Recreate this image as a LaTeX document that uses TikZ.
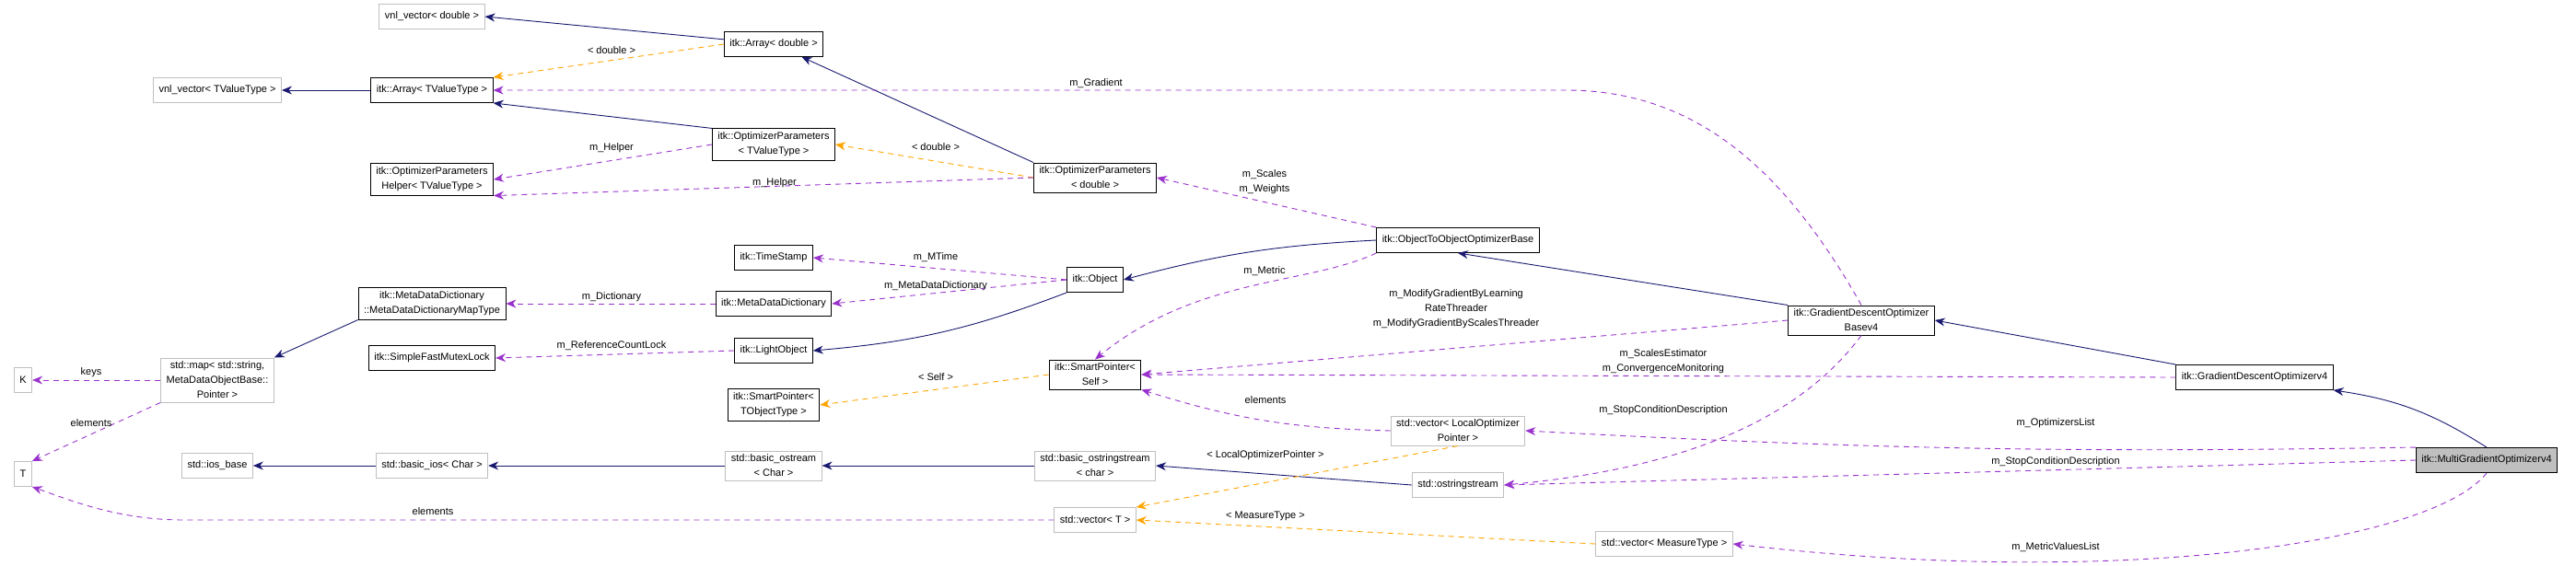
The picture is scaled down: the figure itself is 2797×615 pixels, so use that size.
\documentclass[tikz,border=0pt]{standalone}
\usepackage{fontspec}
\setmainfont{Liberation Sans}
\usetikzlibrary{arrows.meta,positioning}
\definecolor{inhcol}{RGB}{25,25,112}
\definecolor{usecol}{RGB}{153,50,204}
\definecolor{tplcol}{RGB}{255,165,0}
\definecolor{extcol}{RGB}{191,191,191}
\begin{document}
\begin{tikzpicture}[x=1pt, y=-1pt, font=\fontsize{11}{16}\selectfont]
        % Define block styles
        \tikzstyle{cls} = [rectangle, draw=black, line width=0.9pt, align=center, inner xsep=6pt, inner ysep=4pt, minimum height=27pt]
        \tikzstyle{ext} = [cls, draw=extcol]
        \tikzstyle{me} = [cls, fill=extcol]
        \tikzstyle{inh} = [draw=inhcol, line width=0.9pt, -{Stealth[length=11pt,width=9pt]}]
        \tikzstyle{use} = [draw=usecol, line width=0.9pt, dashed, dash pattern=on 6pt off 5pt, -{Stealth[length=11pt,width=9pt]}]
        \tikzstyle{tpl} = [use, draw=tplcol]
        \tikzstyle{lbl} = [align=center, inner sep=1pt]
        \useasboundingbox (0,0) rectangle (2797,615);

        % Place nodes
        \node [ext] (vnlD) at (469,18) {vnl\_vector< double >};
        \node [ext] (vnlT) at (236,98) {vnl\_vector< TValueType >};
        \node [cls] (arrT) at (469,98) {itk::Array< TValueType >};
        \node [cls] (helperT) at (469,195) {itk::OptimizerParameters\\Helper< TValueType >};
        \node [cls] (mddMap) at (469,330) {itk::MetaDataDictionary\\::MetaDataDictionaryMapType};
        \node [cls] (mutex) at (469,389) {itk::SimpleFastMutexLock};
        \node [ext] (stdMap) at (236,413) {std::map< std::string,\\MetaDataObjectBase::\\Pointer >};
        \node [ext] (K) at (25,413) {K};
        \node [ext] (T) at (25,515) {T};
        \node [ext] (iosBase) at (236,506) {std::ios\_base};
        \node [ext] (basicIos) at (469,506) {std::basic\_ios< Char >};

        \node [cls] (arrD) at (840,48) {itk::Array< double >};
        \node [cls] (optT) at (840,157) {itk::OptimizerParameters\\< TValueType >};
        \node [cls] (timeStamp) at (840,280) {itk::TimeStamp};
        \node [cls] (mdd) at (840,330) {itk::MetaDataDictionary};
        \node [cls] (lightObj) at (840,381) {itk::LightObject};
        \node [cls] (spT) at (840,440) {itk::SmartPointer<\\TObjectType >};
        \node [ext] (basicOstream) at (840,506) {std::basic\_ostream\\< Char >};

        \node [cls] (optD) at (1189,193) {itk::OptimizerParameters\\< double >};
        \node [cls] (object) at (1189,304) {itk::Object};
        \node [cls] (spSelf) at (1189,407) {itk::SmartPointer<\\Self >};
        \node [ext] (basicOss) at (1189,506) {std::basic\_ostringstream\\< char >};
        \node [ext] (vecT) at (1189,565) {std::vector< T >};

        \node [cls] (o2o) at (1583,261) {itk::ObjectToObjectOptimizerBase};
        \node [ext] (vecLocal) at (1583,468) {std::vector< LocalOptimizer\\Pointer >};
        \node [ext] (oss) at (1583,527) {std::ostringstream};
        \node [ext] (vecMeasure) at (1807,591) {std::vector< MeasureType >};

        \node [cls] (gdBase) at (2021,348) {itk::GradientDescentOptimizer\\Basev4};
        \node [cls] (gdv4) at (2448,410) {itk::GradientDescentOptimizerv4};
        \node [me] (multi) at (2700,500) {itk::MultiGradientOptimizerv4};

        % Inheritance
        \path [inh] (arrD) -- (vnlD.east);
        \path [inh] (arrT) -- (vnlT);
        \path [inh] (optD.north west) -- (arrD);
        \path [inh] (optT.north west) -- (arrT.south east);
        \path [inh] (object.south west) to[bend left=8] (lightObj.east);
        \path [inh] (o2o.west) to[bend right=6] (object.east);
        \path [inh] (gdBase.north west) -- (o2o.south);
        \path [inh] (gdv4.north west) -- (gdBase.east);
        \path [inh] (multi.north) to[bend right=12] (gdv4.south east);
        \path [inh] (mddMap.south west) -- (stdMap.north east);
        \path [inh] (basicIos) -- (iosBase);
        \path [inh] (basicOstream) -- (basicIos);
        \path [inh] (basicOss) -- (basicOstream);
        \path [inh] (oss.west) -- (basicOss.east);

        % Template instances
        \path [tpl] (arrD.west) -- (arrT.north east);
        \path [tpl] (optD.west) -- (optT.east);
        \path [tpl] (spSelf.west) -- (spT.east);
        \path [tpl] (vecLocal.south) -- (vecT.north east);
        \path [tpl] (vecMeasure.west) -- (vecT.east);

        % Members
        \path [use] (gdBase.north) .. controls (1930,170) and (1830,98) .. (1700,98) -- (arrT.east);
        \path [use] (optT.west) -- (helperT.east);
        \path [use] (optD.west) -- (helperT.south east);
        \path [use] (o2o.north west) -- (optD.east);
        \path [use] (object.west) -- (timeStamp.east);
        \path [use] (object.west) -- (mdd.east);
        \path [use] (mdd.west) -- (mddMap.east);
        \path [use] (lightObj.west) -- (mutex.east);
        \path [use] (stdMap.west) -- (K.east);
        \path [use] (stdMap.south west) -- (T.north east);
        \path [use] (vecT.west) -- (200,565) .. controls (130,565) and (80,545) .. (T.south east);
        \path [use] (o2o.south west) .. controls (1420,310) and (1300,300) .. (spSelf.north);
        \path [use] (gdBase.west) -- (spSelf.east);
        \path [use] (gdv4.west) -- (spSelf.east);
        \path [use] (vecLocal.west) to[bend left=8] (spSelf.south east);
        \path [use] (gdBase.south) .. controls (1950,460) and (1820,510) .. (oss.east);
        \path [use] (multi.north west) to[bend left=2] (vecLocal.east);
        \path [use] (multi.west) -- (oss.east);
        \path [use] (multi.south) .. controls (2640,590) and (2300,640) .. (vecMeasure.east);

        % Labels
        \node [lbl] (lDoubleA) at (664,55) {< double >};
        \node [lbl] (lGradient) at (1190,91) {m\_Gradient};
        \node [lbl] (lHelperA) at (664,161) {m\_Helper};
        \node [lbl] (lDoubleB) at (1016,160) {< double >};
        \node [lbl] (lHelperB) at (841,199) {m\_Helper};
        \node [lbl] (lScales) at (1373,198) {m\_Scales\\m\_Weights};
        \node [lbl] (lMTime) at (1016,280) {m\_MTime};
        \node [lbl] (lMdd) at (1016,311) {m\_MetaDataDictionary};
        \node [lbl] (lDict) at (664,323) {m\_Dictionary};
        \node [lbl] (lLock) at (664,376) {m\_ReferenceCountLock};
        \node [lbl] (lKeys) at (99,405) {keys};
        \node [lbl] (lElemA) at (99,460) {elements};
        \node [lbl] (lMetric) at (1373,295) {m\_Metric};
        \node [lbl] (lThreader) at (1581,336) {m\_ModifyGradientByLearning\\RateThreader\\m\_ModifyGradientByScalesThreader};
        \node [lbl] (lSelf) at (1016,410) {< Self >};
        \node [lbl] (lEstimator) at (1806,393) {m\_ScalesEstimator\\m\_ConvergenceMonitoring};
        \node [lbl] (lElemB) at (1374,435) {elements};
        \node [lbl] (lStopA) at (1806,446) {m\_StopConditionDescription};
        \node [lbl] (lLocal) at (1374,495) {< LocalOptimizerPointer >};
        \node [lbl] (lOptList) at (2232,460) {m\_OptimizersList};
        \node [lbl] (lStopB) at (2232,502) {m\_StopConditionDescription};
        \node [lbl] (lMeasure) at (1374,561) {< MeasureType >};
        \node [lbl] (lMetricVal) at (2232,595) {m\_MetricValuesList};
        \node [lbl] (lElemC) at (470,556) {elements};
    \end{tikzpicture}
\end{document}
